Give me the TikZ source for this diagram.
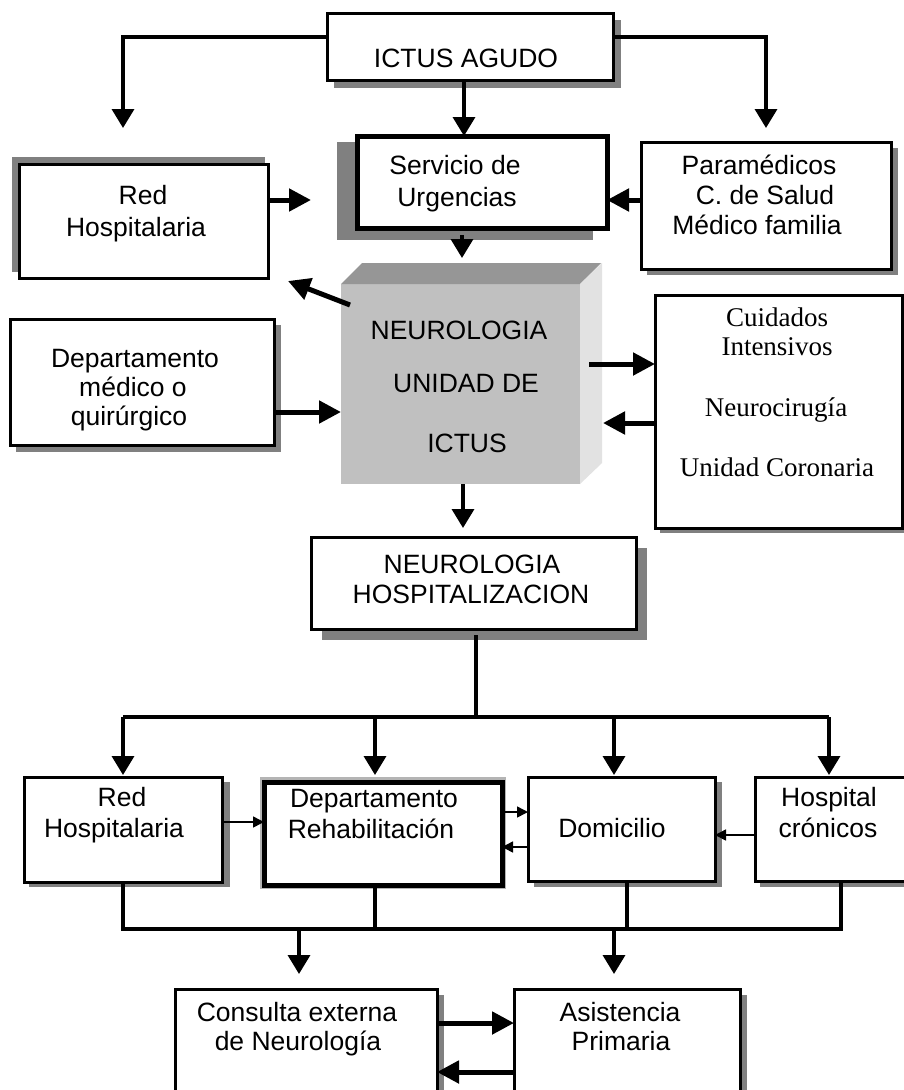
\documentclass[tikz,border=0pt]{standalone}
\usepackage{fontspec}
\setmainfont{Liberation Sans}
\newfontfamily\timesfont{Liberation Serif}
\usetikzlibrary{arrows.meta,calc}
\definecolor{shd}{HTML}{808080}
\definecolor{lightshd}{HTML}{B4B4B4}
\definecolor{cubefront}{HTML}{C0C0C0}
\definecolor{cubetop}{HTML}{969696}
\definecolor{cubeside}{HTML}{E2E2E2}
\newcommand\mkbox[6][]{%
  \node[box,#1,minimum width={(#5-#3)*1pt},minimum height={(#6-#4)*1pt}] (#2) at ({(#3+#5)/2},{(#4+#6)/2}) {};}
\begin{document}
\begin{tikzpicture}[x=1pt,y=-1pt,
  box/.style={draw, line width=3pt, fill=white, inner sep=0pt, outer sep=0pt},
  thickbox/.style={line width=5pt},
  shadowfill/.style={fill=shd},
  big/.style={-{Triangle[width=22pt,length=19pt]}, line width=3.5pt},
  fat/.style={-{Triangle[width=22pt,length=22pt]}, line width=5pt},
  thinarr/.style={-{Triangle[width=11pt,length=11pt]}, line width=1.5pt},
  bar/.style={line width=3.5pt},
  lbl/.style={font=\fontsize{26.5}{30}\selectfont, anchor=base, inner sep=0pt},
  slbl/.style={font=\timesfont\fontsize{27}{31}\selectfont, anchor=base, inner sep=0pt},
]
\path[use as bounding box] (0,0) rectangle (904,1090);
\clip (0,0) rectangle (904,1090);
\fill[white] (0,0) rectangle (904,1090);

% ---------- shadows ----------
\fill[shadowfill] (334,20) rectangle (621,88);
\fill[shadowfill] (337,142) rectangle (593,240);
\fill[shadowfill] (12,157) rectangle (265,272);
\fill[shadowfill] (647,148) rectangle (898,275);
\fill[shadowfill] (16,325) rectangle (281,452);
\fill[shadowfill] (660,300) rectangle (910,533);
\fill[shadowfill] (322,548) rectangle (647,640);
\fill[shadowfill] (29,782) rectangle (230,887);
\fill[lightshd] (260,777) rectangle (506,889);
\fill[shadowfill] (534,782) rectangle (722,887);
\fill[shadowfill] (760,782) rectangle (915,887);
\fill[shadowfill] (181,995) rectangle (444,1100);
\fill[shadowfill] (520,995) rectangle (747,1100);

% ---------- boxes ----------
\mkbox{ictus}{327}{13}{613}{80}
\mkbox[thickbox]{serv}{357}{136}{607}{228}
\mkbox{redt}{19}{164}{268}{278}
\mkbox{param}{641}{142}{891}{269}
\mkbox{dmq}{10}{319}{274}{445}
\mkbox{cuid}{655}{295}{902}{528}
\mkbox{hosp}{311}{537}{636}{629}
\mkbox{red2}{24}{777}{222}{882}
\mkbox[thickbox]{reh}{264}{782}{502}{885}
\mkbox{dom}{528}{777}{715}{881}
\mkbox{cron}{755}{777}{915}{881}
\mkbox{cons}{175}{989}{437}{1100}
\mkbox{asis}{514}{989}{740}{1100}

% ---------- cube ----------
\node[fill=cubefront, inner sep=0pt, outer sep=0pt, minimum width=239pt, minimum height=200pt] (cube) at (460.5,384) {};
\fill[cubetop] (cube.north west) -- ++(21,-21) -- ++(239,0) -- (cube.north east) -- cycle;
\fill[cubeside] (cube.north east) -- ++(22,-21) -- ++(0,200) -- (cube.south east) -- cycle;

% ---------- texts ----------
\node[lbl] (t-ictus) at (466,67) {ICTUS AGUDO};
\node[lbl] (t-serv1) at (455,174) {Servicio de};
\node[lbl] (t-serv2) at (457,206) {Urgencias};
\node[lbl] (t-redt1) at (143,204) {Red};
\node[lbl] (t-redt2) at (136,236) {Hospitalaria};
\node[lbl] (t-par1) at (759,174) {Paramédicos};
\node[lbl] (t-par2) at (765,204) {C. de Salud};
\node[lbl] (t-par3) at (757,234) {Médico familia};
\node[lbl] (t-cube1) at (459,339) {NEUROLOGIA};
\node[lbl] (t-cube2) at (466,392) {UNIDAD DE};
\node[lbl] (t-cube3) at (467,452) {ICTUS};
\node[lbl] (t-dmq1) at (135,367) {Departamento};
\node[lbl] (t-dmq2) at (133,396) {médico o};
\node[lbl] (t-dmq3) at (129,425) {quirúrgico};
\node[slbl] (t-cuid1) at (777,326) {Cuidados};
\node[slbl] (t-cuid2) at (777,355) {Intensivos};
\node[slbl] (t-cuid3) at (776,416) {Neurocirugía};
\node[slbl] (t-cuid4) at (777,476) {Unidad Coronaria};
\node[lbl] (t-hosp1) at (472,573) {NEUROLOGIA};
\node[lbl] (t-hosp2) at (471,603) {HOSPITALIZACION};
\node[lbl] (t-red21) at (122,806) {Red};
\node[lbl] (t-red22) at (114,837) {Hospitalaria};
\node[lbl] (t-reh1) at (374,807) {Departamento};
\node[lbl] (t-reh2) at (371,838) {Rehabilitación};
\node[lbl] (t-dom) at (612,837) {Domicilio};
\node[lbl] (t-cron1) at (829,806) {Hospital};
\node[lbl] (t-cron2) at (828,837) {crónicos};
\node[lbl] (t-cons1) at (297,1021) {Consulta externa};
\node[lbl] (t-cons2) at (298,1050) {de Neurología};
\node[lbl] (t-asis1) at (620,1021) {Asistencia};
\node[lbl] (t-asis2) at (621,1050) {Primaria};

% ---------- connectors ----------
\coordinate (tipL) at (123,128);
\coordinate (tipR) at (766,128);
\coordinate (redtip) at (311,200);
\draw[big] (ictus.west |- 0,37) -| (tipL);
\draw[big] (ictus.east |- 0,37) -| (tipR);
\draw[big] (ictus.south -| 464,0) -- (serv.north -| 464,0);
\draw[fat] (redt.east |- redtip) -- (redtip);
\draw[fat] (param.west |- 0,200) -- (serv.east |- 0,200);
\draw[big] ($(serv.south -| 462,0)+(0,7)$) -- ($(cube.north -| 462,0)+(0,-26)$);
\draw[fat] ($(cube.north west)+(9,21)$) -- ($(redt.south east)+(20,3)$);
\draw[fat] (dmq.east |- 0,412) -- (cube.west |- 0,412);
\draw[fat] ($(cube.east |- 0,364)+(9,0)$) -- (cuid.west |- 0,364);
\draw[fat] (cuid.west |- 0,423) -- ($(cube.east |- 0,423)+(23,0)$);
\draw[big] (cube.south -| 463,0) -- ($(hosp.north -| 463,0)+(0,-9)$);

\coordinate (busTop) at (476,717);
\draw[bar] ($(hosp.south -| busTop)+(0,6)$) -- (busTop);
\draw[bar] (red2.north |- busTop) -- (busTop -| 829,0);
\draw[big] (red2.north |- busTop) -- ($(red2.north)+(0,-2)$);
\draw[big] (busTop -| 375,0) -- ($(reh.north -| 375,0)+(0,-7)$);
\draw[big] (busTop -| 614,0) -- ($(dom.north -| 614,0)+(0,-2)$);
\draw[big] (busTop -| 829,0) -- ($(cron.north -| 829,0)+(0,-2)$);

\draw[thinarr] (red2.east |- 0,822) -- (reh.west |- 0,822);
\draw[thinarr] (reh.east |- 0,812) -- (dom.west |- 0,812);
\draw[thinarr] (dom.west |- 0,847) -- (reh.east |- 0,847);
\draw[thinarr] (cron.west |- 0,835) -- (dom.east |- 0,835);

\coordinate (lb) at (476,929);
\draw[bar] (red2.south) -- (red2.south |- lb) -- (lb -| 841,0) -- (cron.south -| 841,0);
\draw[bar] (reh.south -| 375,0) -- (lb -| 375,0);
\draw[bar] (dom.south -| 627,0) -- (lb -| 627,0);
\draw[big] (lb -| 299,0) -- ($(cons.north -| 299,0)+(0,-15)$);
\draw[big] (lb -| 614,0) -- ($(asis.north -| 614,0)+(0,-15)$);

\draw[fat] (cons.east |- 0,1023) -- (asis.west |- 0,1023);
\draw[fat] (asis.west |- 0,1072) -- (cons.east |- 0,1072);
\end{tikzpicture}
\end{document}
